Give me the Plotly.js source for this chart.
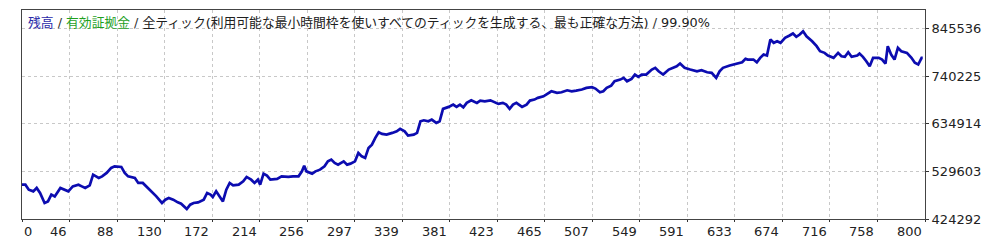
<!DOCTYPE html>
<html>
<head>
<meta charset="utf-8">
<script src="https://cdn.plot.ly/plotly-3.0.1.min.js"></script>
<style>
html,body{margin:0;padding:0;background:#fff;}
#chart{width:1000px;height:241px;}
</style>
</head>
<body>
<div id="chart"></div>
<script>
// ---- data ----
const tradeNo = [0,3,6,10,13,16,20,23,26,29,34,38,41,45,50,53,56,60,63,68,71,75,79,82,88,91,94,100,103,107,110,115,119,124,127,130,134,138,141,146,149,152,156,161,164,167,169,172,175,178,181,184,187,192,196,199,203,206,209,211,214,217,220,226,230,236,240,245,248,250,252,257,260,264,268,271,274,277,280,285,288,291,295,298,301,304,307,310,313,316,319,323,328,332,335,339,342,347,350,353,356,360,363,367,370,373,378,382,385,388,391,394,398,403,406,410,415,418,422,426,429,432,435,438,443,447,450,454,457,462,466,469,474,478,483,487,491,496,500,505,508,512,515,518,522,525,530,533,536,540,543,546,549,553,558,561,564,568,573,577,580,583,587,592,598,602,607,611,615,618,621,627,633,638,641,643,648,651,654,657,660,661,663,666,669,672,676,680,683,686,689,692,695,700,704,707,711,714,719,723,726,729,732,735,740,742,745,748,751,754,759,762,765,767,770,773,776,779,784,788,791,794,797,798];
const balance = [500300,500300,489300,485500,493000,481900,459800,463300,478200,474400,493000,489300,485500,496600,500300,496600,493000,498800,522500,515200,518700,526300,537400,540900,539600,526300,518700,515200,504100,504100,496600,485500,474400,459800,467100,470900,467100,461100,458200,446500,456000,459800,461100,467100,481900,478200,473100,485500,474400,463300,489300,504100,498800,500300,507700,517400,511400,504100,511400,500300,524700,520300,511400,513000,518700,517400,518700,518700,529800,542500,529800,524700,529800,533600,540900,552000,555800,548400,544700,552000,544700,546900,552000,570600,563100,559500,581700,589000,603900,616300,612700,611200,615000,618500,623800,618500,609000,611200,615000,640700,642900,640700,644400,637100,640700,668200,672600,677700,672600,677700,671700,681500,687200,681500,686600,685000,687200,683700,679300,681500,677700,668200,677700,681500,672600,677700,686600,688800,692600,696100,703600,707200,703600,705000,709400,707200,708700,711000,714700,716100,713200,705000,707200,714700,719800,729400,733100,736900,729400,734700,744200,739100,744200,744200,755300,759100,751500,744200,755300,759100,762600,768600,759100,755300,751500,753700,749300,748000,736900,751500,759100,764200,768600,771500,779000,777500,777500,771500,781200,788600,786300,799600,821800,814500,818000,814500,825600,830700,835100,827800,832900,840200,829100,818000,807000,795900,792300,786300,781200,792300,784800,783500,793700,783500,786300,790800,783500,773700,762600,781200,781200,777500,768600,807000,788600,777500,803400,795900,792300,781200,770200,766400,781200,781200];
const xTickLabels = ["0","46","88","130","172","214","256","297","339","381","423","465","507","549","591","633","674","716","758","800"];
const yTickVals = [424292,529603,634914,740225,845536];
const yTickLabels = ["424292","529603","634914","740225","845536"];
const titleParts = [
  {text:"残高", color:"#2a2aa8"},
  {text:" / ", color:"#303030"},
  {text:"有効証拠金", color:"#1ea01e"},
  {text:" / ", color:"#303030"},
  {text:"全ティック(利用可能な最小時間枠を使いすべてのティックを生成する、最も正確な方法)", color:"#202020"},
  {text:" / ", color:"#303030"},
  {text:"99.90%", color:"#202020"}
];

// ---- chart ----
const xMax = 800;
const yMin = 424292, yMax = 887200;
const FONT = "DejaVu Sans, Noto Sans CJK JP, sans-serif";

const xTickPos = xTickLabels.map((_, i) => i * xMax / (xTickLabels.length - 1));

const annotations = xTickLabels.map((t, i) => ({
  text: t, xref: 'x', yref: 'paper', x: xTickPos[i], y: 0,
  xanchor: i === 0 ? 'left' : 'right', yanchor: 'top',
  xshift: i === 0 ? 0 : -1, yshift: -3,
  showarrow: false, font: {family: FONT, size: 13, color: '#222'}
}));
annotations.push({
  text: titleParts.map(p => '<span style="color:' + p.color + '">' + p.text + '</span>').join(''),
  xref: 'paper', yref: 'paper', x: 0, y: 1, xanchor: 'left', yanchor: 'top',
  xshift: 4, yshift: -3, showarrow: false,
  font: {family: FONT, size: 12.8, color: '#202020'}
});

const trace = {
  x: tradeNo, y: balance, type: 'scatter', mode: 'lines',
  line: {color: '#0c0cb0', width: 2.7, shape: 'linear'},
  hoverinfo: 'skip'
};

const layout = {
  width: 1000, height: 241,
  margin: {l: 22, r: 75, t: 10, b: 22, pad: 0},
  paper_bgcolor: '#ffffff', plot_bgcolor: '#ffffff',
  showlegend: false,
  xaxis: {
    range: [0, xMax], tickvals: xTickPos, showticklabels: false,
    ticks: 'outside', ticklen: 2, tickcolor: '#333',
    showgrid: true, gridcolor: '#c8c8c8', griddash: '3px,3px', gridwidth: 1,
    showline: true, linecolor: '#444', linewidth: 1, mirror: true,
    zeroline: false, fixedrange: true
  },
  yaxis: {
    range: [yMin, yMax], side: 'right',
    tickvals: yTickVals, ticktext: yTickLabels,
    ticks: 'outside', ticklen: 3, tickcolor: '#333',
    tickfont: {family: FONT, size: 13, color: '#222'},
    showgrid: true, gridcolor: '#c8c8c8', griddash: '3px,3px', gridwidth: 1,
    showline: true, linecolor: '#444', linewidth: 1, mirror: true,
    zeroline: false, fixedrange: true
  },
  annotations: annotations
};

Plotly.newPlot('chart', [trace], layout, {displayModeBar: false, staticPlot: true});
</script>
</body>
</html>
